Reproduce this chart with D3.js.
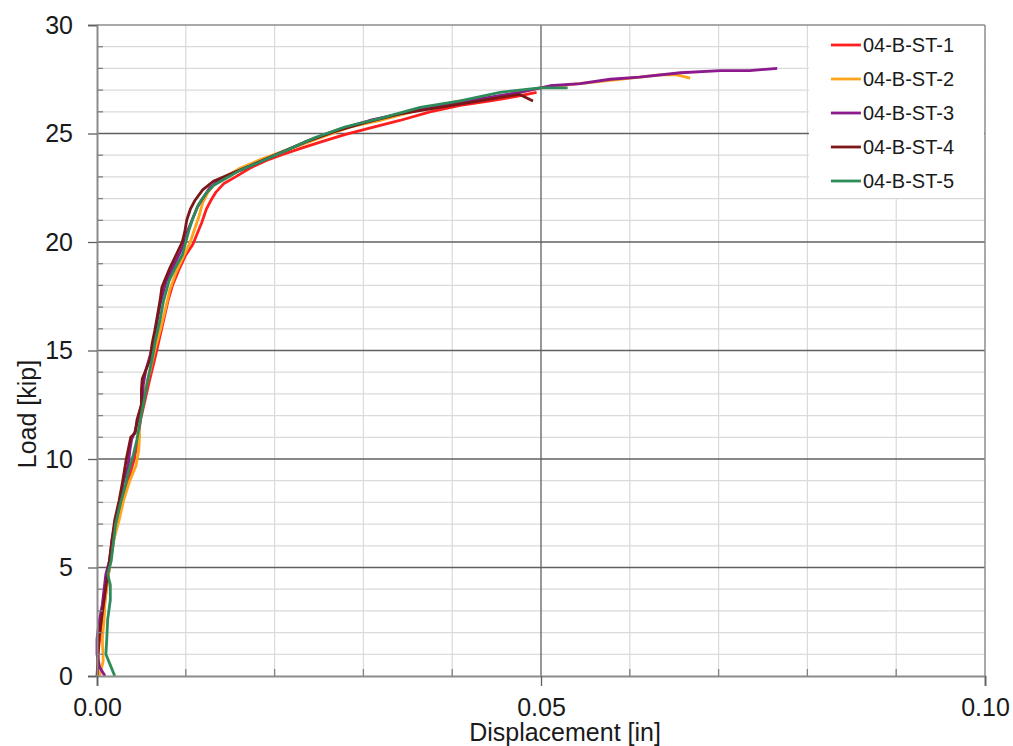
<!DOCTYPE html>
<html>
<head>
<meta charset="utf-8">
<script src="https://cdn.jsdelivr.net/npm/d3@7"></script>
<style>
  body { margin: 0; background: #fff; }
  svg { display: block; font-family: "Liberation Sans", Arial, sans-serif; }
</style>
</head>
<body>
<div id="chart"></div>
<script>
// series names + colours
var seriesNames = ["04-B-ST-1", "04-B-ST-2", "04-B-ST-3", "04-B-ST-4", "04-B-ST-5"];
var seriesColors = ["#ff1f1f", "#ffa41c", "#8c1a8c", "#7b1717", "#2e8b5a"];

// [displacement in, load kip]
var st1 = [[0.0001,0],[0.0001,1.0],[0.0003,1.7],[0.0007,2.6],[0.0009,3.5],[0.0012,4.4],[0.0015,5.3],[0.0019,6.3],[0.0023,7.2],[0.0029,8.1],[0.0035,9.0],[0.0042,10.0],[0.0046,10.9],[0.0049,11.8],[0.0054,12.7],[0.0059,13.6],[0.0065,14.6],[0.0070,15.5],[0.0075,16.4],[0.0080,17.3],[0.0085,18.0],[0.0092,18.7],[0.0100,19.4],[0.0108,19.9],[0.0112,20.3],[0.0118,20.9],[0.0123,21.5],[0.0128,21.9],[0.0134,22.3],[0.0143,22.7],[0.0156,23.0],[0.0172,23.4],[0.0190,23.75],[0.0210,24.05],[0.0232,24.35],[0.0255,24.65],[0.0279,24.95],[0.0307,25.25],[0.0341,25.6],[0.0375,26.0],[0.0409,26.3],[0.0443,26.5],[0.0471,26.7],[0.0495,26.9]];
var st2 = [[0.0003,0],[0.0007,0.7],[0.0006,1.7],[0.0008,2.6],[0.0009,3.5],[0.0012,4.4],[0.0015,5.3],[0.0019,6.3],[0.0025,7.2],[0.0030,8.1],[0.0037,9.0],[0.0044,9.7],[0.0047,10.4],[0.0048,11.1],[0.0046,11.8],[0.0050,12.5],[0.0054,13.2],[0.0060,14.1],[0.0065,15.0],[0.0071,15.9],[0.0077,16.9],[0.0082,17.8],[0.0089,18.6],[0.0097,19.3],[0.0105,20.0],[0.0110,20.6],[0.0115,21.2],[0.0119,21.8],[0.0125,22.3],[0.0133,22.7],[0.0144,23.0],[0.0161,23.4],[0.0184,23.8],[0.0218,24.3],[0.0251,24.8],[0.0285,25.3],[0.0319,25.6],[0.0364,26.1],[0.0409,26.5],[0.0454,26.7],[0.0499,27.1],[0.0544,27.3],[0.0589,27.5],[0.0634,27.7],[0.0653,27.7],[0.0668,27.55]];
var st3 = [[0.0009,0],[0.0003,0.4],[0.0000,1.0],[0.0000,1.7],[0.0002,2.4],[0.0006,3.3],[0.0008,4.0],[0.0010,4.7],[0.0014,5.3],[0.0017,6.3],[0.0021,7.2],[0.0026,8.1],[0.0030,9.0],[0.0035,9.7],[0.0037,10.4],[0.0039,10.9],[0.0043,11.3],[0.0046,11.8],[0.0051,12.5],[0.0052,13.4],[0.0055,14.1],[0.0060,14.8],[0.0064,15.5],[0.0068,16.4],[0.0071,17.1],[0.0074,17.6],[0.0078,18.2],[0.0084,18.7],[0.0091,19.3],[0.0098,19.9],[0.0102,20.5],[0.0107,21.0],[0.0113,21.6],[0.0119,22.0],[0.0127,22.5],[0.0139,22.9],[0.0155,23.2],[0.0178,23.6],[0.0206,24.1],[0.0240,24.7],[0.0274,25.2],[0.0307,25.6],[0.0341,25.9],[0.0386,26.3],[0.0431,26.6],[0.0476,26.9],[0.0510,27.2],[0.0544,27.3],[0.0578,27.5],[0.0611,27.6],[0.0657,27.8],[0.0702,27.9],[0.0735,27.9],[0.0766,28.0]];
var st4 = [[0.0000,0],[0.0001,0.7],[0.0002,1.7],[0.0005,2.6],[0.0008,3.5],[0.0011,4.4],[0.0014,5.3],[0.0017,6.3],[0.0020,7.2],[0.0025,8.1],[0.0029,9.0],[0.0033,10.0],[0.0036,10.6],[0.0038,11.0],[0.0043,11.2],[0.0045,11.8],[0.0050,12.5],[0.0050,13.2],[0.0051,13.7],[0.0055,14.1],[0.0060,14.6],[0.0062,15.3],[0.0065,15.9],[0.0068,16.6],[0.0071,17.3],[0.0073,17.9],[0.0077,18.3],[0.0082,18.8],[0.0089,19.4],[0.0096,20.0],[0.0099,20.5],[0.0101,21.0],[0.0105,21.5],[0.0110,21.9],[0.0119,22.4],[0.0131,22.8],[0.0148,23.1],[0.0172,23.5],[0.0200,24.0],[0.0234,24.6],[0.0268,25.1],[0.0302,25.5],[0.0341,25.9],[0.0386,26.2],[0.0431,26.5],[0.0459,26.7],[0.0476,26.8],[0.0491,26.5]];
var st5 = [[0.0020,0],[0.0015,0.5],[0.0010,1.0],[0.0011,1.7],[0.0012,2.6],[0.0015,3.5],[0.0015,4.2],[0.0012,4.7],[0.0016,5.3],[0.0018,6.0],[0.0021,7.0],[0.0026,7.9],[0.0032,8.8],[0.0036,9.5],[0.0041,10.2],[0.0045,10.9],[0.0048,11.6],[0.0051,12.3],[0.0054,12.9],[0.0057,13.6],[0.0062,14.6],[0.0066,15.5],[0.0071,16.4],[0.0075,17.3],[0.0081,18.2],[0.0088,18.8],[0.0096,19.4],[0.0100,20.0],[0.0104,20.6],[0.0108,21.1],[0.0114,21.7],[0.0122,22.2],[0.0131,22.6],[0.0144,22.9],[0.0161,23.3],[0.0184,23.7],[0.0212,24.2],[0.0245,24.8],[0.0279,25.3],[0.0319,25.7],[0.0364,26.2],[0.0409,26.5],[0.0454,26.9],[0.0499,27.1],[0.0530,27.1]];

var xTicks = [0, 0.05, 0.10];
var yTicks = [0, 5, 10, 15, 20, 25, 30];

var allSeries = [st1, st2, st3, st4, st5];

var width = 1013, height = 746;
var margin = { top: 25, right: 28, bottom: 70, left: 97 };
var w = width - margin.left - margin.right,
    h = height - margin.top - margin.bottom;

var svg = d3.select("#chart").append("svg")
    .attr("width", width)
    .attr("height", height);

var g = svg.append("g")
    .attr("transform", "translate(" + margin.left + "," + margin.top + ")");

var x = d3.scaleLinear().domain([0, 0.10]).range([0, w]);
var y = d3.scaleLinear().domain([0, 30]).range([h, 0]);

// minor grid
g.append("g").selectAll("line")
    .data(d3.range(1, 30).filter(function (d) { return d % 5 != 0; }))
    .enter().append("line")
    .attr("x1", 0).attr("x2", w)
    .attr("y1", function (d) { return y(d); })
    .attr("y2", function (d) { return y(d); })
    .attr("stroke", "#dadada").attr("stroke-width", 1.2);

g.append("g").selectAll("line")
    .data(d3.range(1, 10).filter(function (d) { return d != 5; }))
    .enter().append("line")
    .attr("y1", 0).attr("y2", h)
    .attr("x1", function (d) { return x(d / 100); })
    .attr("x2", function (d) { return x(d / 100); })
    .attr("stroke", "#dadada").attr("stroke-width", 1.2);

// major grid
g.append("g").selectAll("line")
    .data([5, 10, 15, 20, 25])
    .enter().append("line")
    .attr("x1", 0).attr("x2", w)
    .attr("y1", function (d) { return y(d); })
    .attr("y2", function (d) { return y(d); })
    .attr("stroke", "#606060").attr("stroke-width", 1.3);

g.append("line")
    .attr("x1", x(0.05)).attr("x2", x(0.05))
    .attr("y1", 0).attr("y2", h)
    .attr("stroke", "#606060").attr("stroke-width", 1.3);

// frame top/right
g.append("line").attr("x1", 0).attr("x2", w).attr("y1", 0).attr("y2", 0)
    .attr("stroke", "#8c8c8c").attr("stroke-width", 1.5);
g.append("line").attr("x1", w).attr("x2", w).attr("y1", 0).attr("y2", h)
    .attr("stroke", "#8c8c8c").attr("stroke-width", 1.5);

// legend background (covers grid)
var lg = g.append("g").attr("transform", "translate(" + (x(0.08) + 1.5) + ",1)");
lg.append("rect")
    .attr("width", w - x(0.08) - 2.5)
    .attr("height", 172)
    .attr("fill", "#fff");

// curves
var line = d3.line()
    .x(function (d) { return x(d[0]); })
    .y(function (d) { return y(d[1]); });

allSeries.forEach(function (s, i) {
    g.append("path")
        .datum(s)
        .attr("fill", "none")
        .attr("stroke", seriesColors[i])
        .attr("stroke-width", 2.8)
        .attr("stroke-linejoin", "round")
        .attr("d", line);
});

// axes
var yAxis = g.append("g")
    .call(d3.axisLeft(y).tickValues(yTicks).tickSize(9).tickPadding(15).tickFormat(d3.format("d")));
yAxis.select(".domain").attr("stroke", "#8c8c8c").attr("stroke-width", 2);
yAxis.selectAll(".tick line").attr("stroke", "#606060").attr("stroke-width", 1.3);
yAxis.selectAll("text").attr("font-size", 25).attr("fill", "#1a1a1a")
    .attr("font-family", "Liberation Sans, Arial, sans-serif");

// y minor ticks (inside)
g.append("g").selectAll("line")
    .data(d3.range(1, 30).filter(function (d) { return d % 5 != 0; }))
    .enter().append("line")
    .attr("x1", 0).attr("x2", 6)
    .attr("y1", function (d) { return y(d); })
    .attr("y2", function (d) { return y(d); })
    .attr("stroke", "#808080").attr("stroke-width", 1.3);

var xAxis = g.append("g")
    .attr("transform", "translate(0," + h + ")")
    .call(d3.axisBottom(x).tickValues(xTicks).tickSize(10).tickPadding(12).tickFormat(d3.format(".2f")));
xAxis.select(".domain").attr("stroke", "#8c8c8c").attr("stroke-width", 2);
xAxis.selectAll(".tick line").attr("stroke", "#606060").attr("stroke-width", 1.3);
xAxis.selectAll("text").attr("font-size", 25).attr("fill", "#1a1a1a")
    .attr("font-family", "Liberation Sans, Arial, sans-serif");

// x minor ticks (inside)
g.append("g").selectAll("line")
    .data(d3.range(1, 10).filter(function (d) { return d != 5; }))
    .enter().append("line")
    .attr("y1", h).attr("y2", h - 7)
    .attr("x1", function (d) { return x(d / 100); })
    .attr("x2", function (d) { return x(d / 100); })
    .attr("stroke", "#808080").attr("stroke-width", 1.3);

// axis titles
svg.append("text")
    .attr("x", 565)
    .attr("y", 741)
    .attr("text-anchor", "middle")
    .attr("font-size", 25)
    .attr("fill", "#1a1a1a")
    .text("Displacement [in]");

svg.append("text")
    .attr("transform", "translate(36," + 414 + ") rotate(-90)")
    .attr("text-anchor", "middle")
    .attr("font-size", 25)
    .attr("fill", "#1a1a1a")
    .text("Load [kip]");

// legend entries
seriesNames.forEach(function (name, i) {
    var yy = 19 + i * 34;
    lg.append("line")
        .attr("x1", 22).attr("x2", 52)
        .attr("y1", yy).attr("y2", yy)
        .attr("stroke", seriesColors[i]).attr("stroke-width", 2.8);
    lg.append("text")
        .attr("x", 54).attr("y", yy + 7)
        .attr("font-size", 20)
        .attr("fill", "#1a1a1a")
        .text(name);
});
</script>
</body>
</html>
